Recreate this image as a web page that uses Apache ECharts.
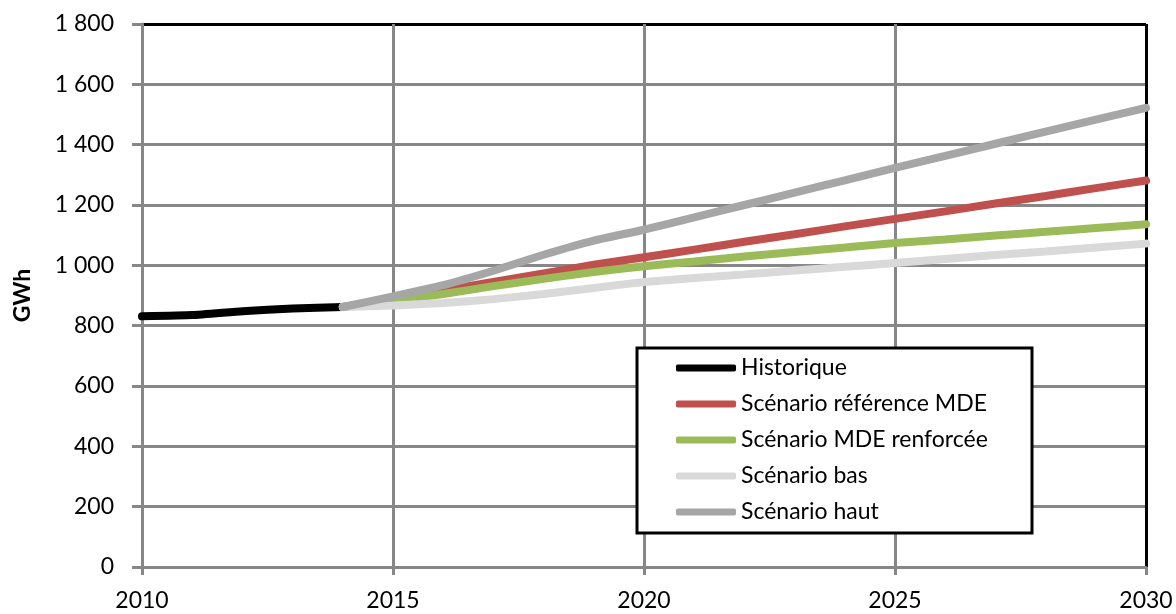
<!DOCTYPE html>
<html>
<head>
<meta charset="utf-8">
<script src="https://cdn.jsdelivr.net/npm/echarts@6/dist/echarts.min.js"></script>
<style>
    html, body { margin: 0; padding: 0; background: #fff; }
    #chart { width: 1176px; height: 614px; }
</style>
</head>
<body>
<div id="chart"></div>
<script>
// années
const histYears = [2010, 2011, 2012, 2013, 2014]
const scenYears = [2014, 2015, 2016, 2017, 2018, 2019, 2020, 2021, 2022,
    2023, 2024, 2025, 2026, 2027, 2028, 2029, 2030]

// GWh
const historique = [831, 835, 848, 857, 862]
const reference = [862, 886, 916, 945, 973, 1002, 1027, 1052, 1078,
    1103, 1129, 1154, 1179, 1205, 1230, 1256, 1281]
const renforcee = [862, 883, 905, 931, 955, 978, 997, 1013, 1029,
    1044, 1059, 1074, 1086, 1099, 1111, 1124, 1136]
const bas = [862, 867, 875, 888, 905, 925, 945, 958, 970,
    983, 995, 1008, 1021, 1034, 1046, 1059, 1072]
const haut = [862, 897, 934, 982, 1035, 1082, 1118, 1159, 1200,
    1241, 1282, 1323, 1363, 1403, 1443, 1483, 1522]

const seriesNames = ['Historique', 'Scénario référence MDE', 'Scénario MDE renforcée',
    'Scénario bas', 'Scénario haut']

const font = 'Lato'
const gridGray = '#878787'

function pairs (xs, ys) {
    return xs.map((x, i) => [x, ys[i]])
}

function makeLine (name, xs, ys, color) {
    return {
        name: name,
        type: 'line',
        data: pairs(xs, ys),
        symbol: 'none',
        smooth: 0.15,
        lineStyle: { color: color, width: 8, cap: 'round' },
        itemStyle: { color: color }
    }
}

const chart = echarts.init(document.getElementById('chart'))

chart.setOption({
    backgroundColor: '#fff',
    animation: false,
    textStyle: { fontFamily: font },
    grid: { left: 142, right: 30, top: 24, bottom: 47 },
    xAxis: {
        type: 'value',
        min: 2010,
        max: 2030,
        interval: 5,
        axisLine: { show: true, lineStyle: { color: gridGray, width: 3 } },
        axisTick: { show: true, length: 8, lineStyle: { color: gridGray, width: 3 } },
        axisLabel: {
            color: '#000',
            fontSize: 23,
            fontFamily: font,
            margin: 22,
            formatter: v => String(v)
        },
        splitLine: {
            show: true,
            lineStyle: { color: [gridGray, gridGray, gridGray, gridGray, '#000'], width: 3 }
        }
    },
    yAxis: {
        type: 'value',
        min: 0,
        max: 1800,
        interval: 200,
        name: 'GWh',
        nameLocation: 'middle',
        nameRotate: 90,
        nameGap: 108,
        nameTextStyle: { color: '#000', fontSize: 23, fontWeight: 'bold', fontFamily: font },
        axisLine: { show: true, lineStyle: { color: gridGray, width: 3 } },
        axisTick: { show: true, length: 10, lineStyle: { color: gridGray, width: 3 } },
        axisLabel: {
            color: '#000',
            fontSize: 23,
            fontFamily: font,
            margin: 28,
            formatter: v => String(v).replace(/\B(?=(\d{3})+(?!\d))/g, ' ')
        },
        splitLine: {
            show: true,
            lineStyle: {
                color: [gridGray, gridGray, gridGray, gridGray, gridGray,
                    gridGray, gridGray, gridGray, gridGray, '#000'],
                width: 3
            }
        }
    },
    legend: {
        data: seriesNames,
        orient: 'vertical',
        left: 637,
        top: 348,
        padding: [8, 10, 8, 39],
        icon: 'roundRect',
        itemWidth: 60,
        itemHeight: 7,
        itemGap: 12,
        z: 5,
        textStyle: { color: '#000', fontSize: 23, fontFamily: font, lineHeight: 24 }
    },
    graphic: [{
        type: 'rect',
        z: 4,
        shape: { x: 637, y: 348, width: 395, height: 185 },
        style: { fill: '#fff', stroke: '#000', lineWidth: 3 }
    }],
    series: [
        makeLine(seriesNames[0], histYears, historique, '#000000'),
        makeLine(seriesNames[1], scenYears, reference, '#C0504D'),
        makeLine(seriesNames[2], scenYears, renforcee, '#9BBB59'),
        makeLine(seriesNames[3], scenYears, bas, '#D9D9D9'),
        makeLine(seriesNames[4], scenYears, haut, '#A6A6A6')
    ]
})
</script>
</body>
</html>
